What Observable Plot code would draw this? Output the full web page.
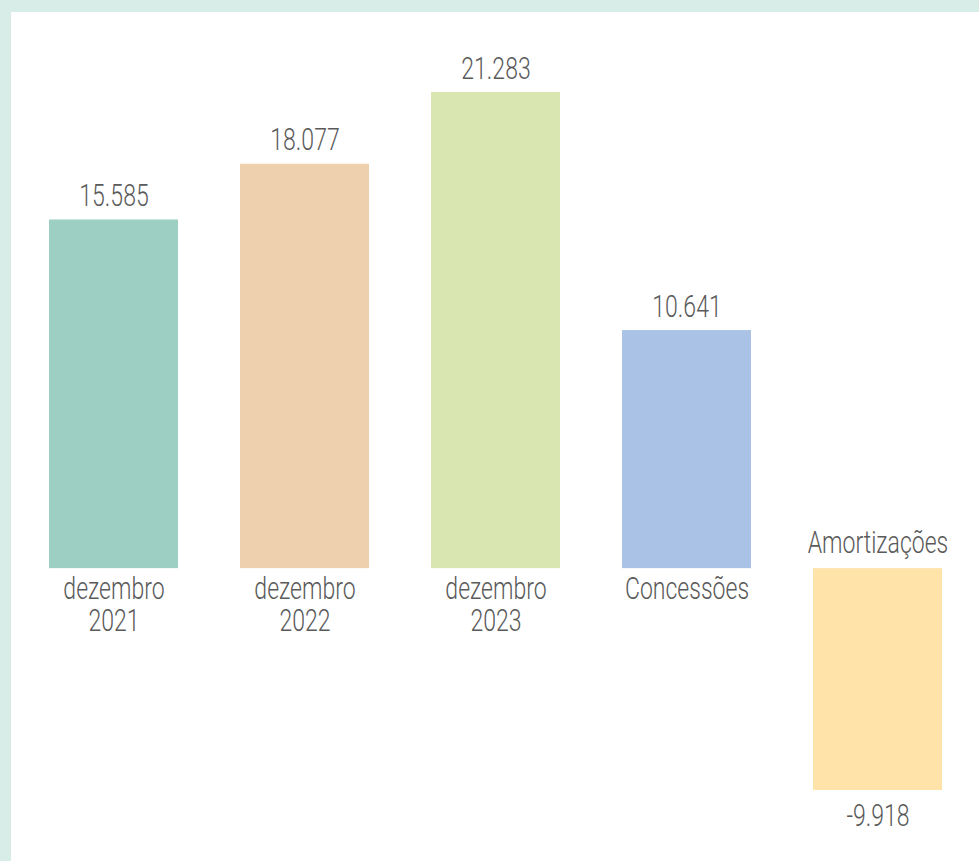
<!DOCTYPE html>
<html><head><meta charset="utf-8">
<script src="https://cdn.jsdelivr.net/npm/d3@7"></script>
<script src="https://cdn.jsdelivr.net/npm/@observablehq/plot@0.6"></script>
<style>
html,body{margin:0;padding:0;background:#d9ede8;width:979px;height:861px;overflow:hidden;}
#wrap{position:absolute;left:11px;top:12px;width:968px;height:849px;background:#fff;}
svg{display:block}
</style></head><body><div id="wrap"></div>
<script>
const categories = ["dezembro 2021","dezembro 2022","dezembro 2023","Concessões","Amortizações"];
const catLine1 = ["dezembro","dezembro","dezembro","Concessões","Amortizações"];
const catLine2 = ["2021","2022","2023","",""];
const values = [15585, 18077, 21283, 10641, -9918];
const labels = ["15.585","18.077","21.283","10.641","-9.918"];
const colors = ["#9dd0c3","#efd0ae","#dae6b1","#a9c2e6","#ffe3a9"];

const data = categories.map((c, i) => ({c, l1: catLine1[i], l2: catLine2[i], v: values[i], label: labels[i]}));
const pos = data.filter(d => d.v >= 0), neg = data.filter(d => d.v < 0);
const txt = {fontSize: 32, fill: "#5a5a5a", fontFamily: "Roboto, sans-serif", fontWeight: 300};

const chart = Plot.plot({
  width: 968, height: 849,
  marginLeft: 6, marginRight: 6, marginTop: 80, marginBottom: 71,
  style: {background: "#fff", fontFamily: "Roboto, sans-serif"},
  x: {domain: categories, paddingInner: 0.325, paddingOuter: 0.1625, axis: null},
  y: {domain: [d3.min(values), d3.max(values)], axis: null},
  color: {domain: categories, range: colors},
  marks: [
    Plot.barY(data, {x: "c", y: "v", fill: "c"}),
    Plot.text(pos, {x: "c", y: "v", text: "label", dy: -14, lineAnchor: "bottom", ...txt}),
    Plot.text(neg, {x: "c", y: "v", text: "label", dy: 13, lineAnchor: "top", ...txt}),
    Plot.text(pos, {x: "c", y: () => 0, text: "l1", dy: 30, lineAnchor: "bottom", ...txt}),
    Plot.text(pos, {x: "c", y: () => 0, text: "l2", dy: 62, lineAnchor: "bottom", ...txt}),
    Plot.text(neg, {x: "c", y: () => 0, text: "l1", dy: -16, lineAnchor: "bottom", ...txt})
  ]
});
chart.querySelectorAll('g[aria-label="text"] text').forEach(t => {
  const tr = t.getAttribute("transform") || "";
  t.setAttribute("transform", tr + " scale(0.72,1)");
});
document.getElementById("wrap").appendChild(chart);
</script>
</body></html>
